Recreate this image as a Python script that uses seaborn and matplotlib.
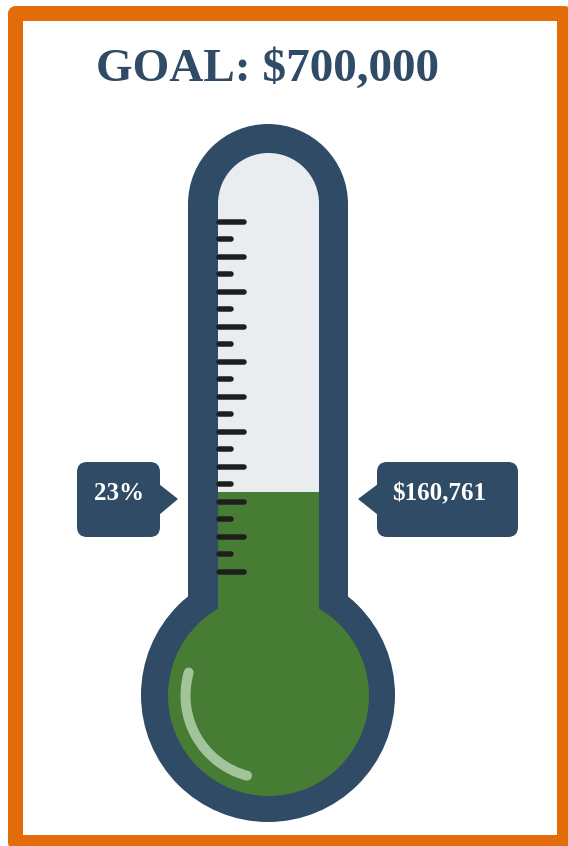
import numpy as np
import pandas as pd
import seaborn as sns
import matplotlib.pyplot as plt
from matplotlib.patches import Rectangle, Circle, FancyBboxPatch, Polygon, Arc

# Dados
goal = 700000
raised = 160761
tick_kind = ['long', 'short'] * 10 + ['long']

NAVY = "#2F4B66"
GREEN = "#467C33"
GLASS = "#E9EDEF"
ORANGE = "#E36C0A"

sns.set_theme(style="white")
plt.rcParams['font.family'] = ['Liberation Serif', 'DejaVu Serif']

fig = plt.figure(figsize=(5.68, 8.46), dpi=100)
ax = fig.add_axes([0, 0, 1, 1])
ax.set_xlim(0, 568)
ax.set_ylim(846, 0)
ax.axis('off')
px = 72 / 100  # pixels -> pontos

# Moldura
ax.add_patch(Rectangle((14.5, 13.5), 549, 829, fill=False, ec=ORANGE,
                       lw=15 * px, joinstyle='round', zorder=1))

# Titulo
ax.text(268, 70, f"GOAL: ${goal:,}", ha='center', va='center', fontsize=34,
        fontweight='bold', color=NAVY)

# Termometro - contorno
cx = 268
ax.add_patch(Circle((cx, 204), 80, color=NAVY, lw=0, zorder=2))
ax.add_patch(Rectangle((cx - 80, 204), 160, 420, color=NAVY, lw=0, zorder=2))
ax.add_patch(Circle((cx, 695), 127, color=NAVY, lw=0, zorder=2))

# Vidro
ax.add_patch(Circle((cx + 0.5, 203.5), 50.5, color=GLASS, lw=0, zorder=3))
ax.add_patch(Rectangle((218, 203.5), 101, 420, color=GLASS, lw=0, zorder=3))

# Nivel (0% em y=593, 100% no topo do vidro y=153)
frac = raised / goal
y0, y1 = 593, 153
level = y0 - frac * (y0 - y1)
ax.add_patch(Rectangle((218, level), 101, 640 - level, color=GREEN, lw=0, zorder=4))
ax.add_patch(Circle((cx + 0.5, 695.5), 100.5, color=GREEN, lw=0, zorder=4))

# Marcas da escala
ticks = pd.DataFrame({'kind': tick_kind})
ticks['y'] = np.linspace(222, 572, len(ticks))
ticks['x_end'] = np.where(ticks['kind'] == 'long', 244, 231)
ax.hlines(ticks['y'], 219, ticks['x_end'], color="#1E1E1E", lw=5.5 * px,
          capstyle='round', zorder=5)

# Reflexo
ax.add_patch(Arc((cx + 0.5, 695.5), 166, 166, theta1=105, theta2=196,
                 color="#A3C39B", lw=10 * px, capstyle='round', zorder=6))

# Balões
def balao(x0, x1, tip, texto, tx):
    ax.add_patch(FancyBboxPatch((x0 + 10, 472), x1 - x0 - 20, 55,
                                boxstyle="round,pad=10", fc=NAVY, ec='none', zorder=6))
    if tip > x1:
        pts = [(x1 - 1, 484), (tip, 499), (x1 - 1, 515)]
    else:
        pts = [(x0 + 1, 484), (tip, 499), (x0 + 1, 515)]
    ax.add_patch(Polygon(pts, closed=True, fc=NAVY, ec='none', zorder=6))
    ax.text(tx, 494, texto, ha='center', va='center', fontsize=18,
            fontweight='bold', color='white', zorder=7)

balao(77, 160, 178, f"{frac:.0%}", 119)
balao(377, 518, 358, f"${raised:,}", 439)

fig.savefig("out.png", dpi=100)
